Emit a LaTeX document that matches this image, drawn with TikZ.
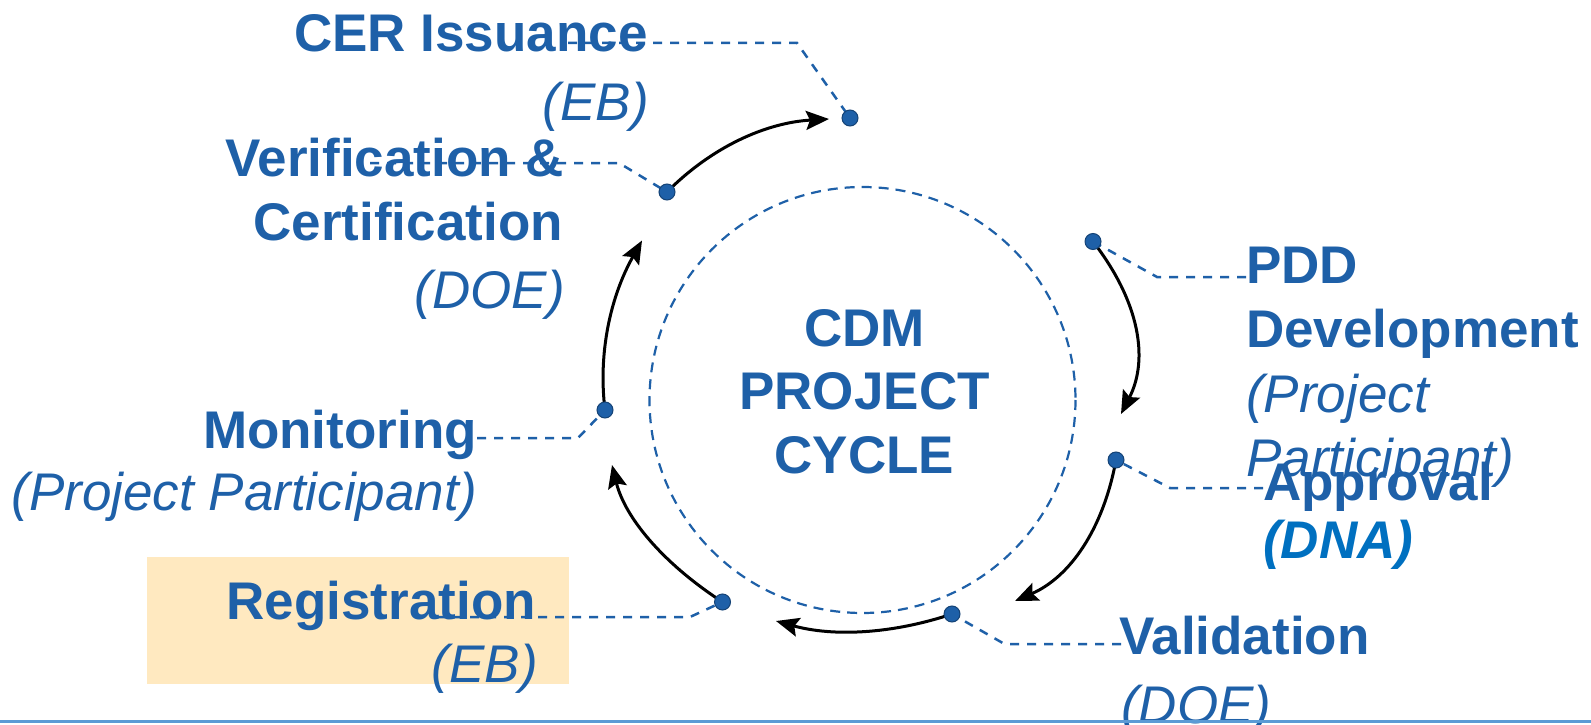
\documentclass[tikz,border=0pt]{standalone}
\usepackage{fontspec}
\setmainfont{Liberation Sans}
\usetikzlibrary{arrows.meta}
\definecolor{tblue}{RGB}{30,96,168}
\definecolor{dnablue}{RGB}{0,112,192}
\definecolor{boxfill}{RGB}{255,233,192}
\definecolor{rulec}{RGB}{91,155,213}
\begin{document}
\begin{tikzpicture}[x=1pt,y=-1pt,
  lbl/.style={inner sep=0pt, text=tblue, font=\fontsize{53}{64}\selectfont\bfseries},
  sub/.style={inner sep=0pt, text=tblue, font=\fontsize{53}{64}\selectfont\itshape},
  dot/.style={circle, fill=tblue, draw=tblue!70!black, line width=1pt, inner sep=0pt, minimum size=16pt},
  lead/.style={draw=tblue, line width=2.5pt, dash pattern=on 9pt off 8pt},
  arr/.style={draw=black, line width=3pt, -{Stealth[length=23pt,width=19pt,inset=4pt]}},
]
\useasboundingbox (0,0) rectangle (1591,725);

% highlight box
\fill[boxfill] (147,557) rectangle (569,684);

% labels
\node[lbl, anchor=base west] (cer) at (294,52) {CER Issuance};
\node[sub, anchor=base east] (cereb) at (649,121) {(EB)};
\node[lbl, anchor=base west] (ver1) at (225,176) {Verification \&};
\node[lbl, anchor=base east] (ver2) at (563,240) {Certification};
\node[sub, anchor=base east] (verdoe) at (565,308) {(DOE)};
\node[lbl, anchor=base east] (mon) at (477,448) {Monitoring};
\node[sub, anchor=base east] (monpp) at (477,510) {(Project Participant)};
\node[lbl, anchor=base east] (reg) at (536,619) {Registration};
\node[sub, anchor=base east] (regeb) at (538,682) {(EB)};
\node[lbl, anchor=base west] (pdd1) at (1246,283) {PDD};
\node[lbl, anchor=base west] (pdd2) at (1246,347) {Development};
\node[sub, anchor=base west] (pdd3) at (1246,412) {(Project};
\node[sub, anchor=base west] (pdd4) at (1246,476) {Participant)};
\node[lbl, anchor=base west] (app) at (1263,500) {Approval};
\node[inner sep=0pt, text=dnablue, font=\fontsize{53}{64}\selectfont\bfseries\itshape, anchor=base west] (dna) at (1263,558) {(DNA)};
\node[lbl, anchor=base west] (val) at (1119,654) {Validation};
\node[sub, anchor=base west] (valdoe) at (1121,723) {(DOE)};

% centre
\draw[tblue, line width=2.2pt, dash pattern=on 10pt off 7pt] (862.5,400) circle (213);
\node[lbl] (c1) at (864.5,328) {CDM};
\node[lbl] (c2) at (864.5,391) {PROJECT};
\node[lbl] (c3) at (864.5,455) {CYCLE};

% dots
\coordinate (dcer) at (850,118);
\coordinate (dver) at (667,192);
\coordinate (dpdd) at (1093,241.5);
\coordinate (dapp) at (1116,460);
\coordinate (dval) at (952,614);
\coordinate (dreg) at (722.5,602);
\coordinate (dmon) at (605,410);

% leaders
\coordinate (lcer) at (568,43);
\coordinate (lver) at (370,163);
\coordinate (lmon) at (477,438);
\coordinate (lreg) at (436,617);
\coordinate (lval) at (1121,644);
\coordinate (lapp) at (1263,488);
\coordinate (lpdd) at (1246,277);
\draw[lead] (lcer) -- (797,43) -- (dcer);
\draw[lead] (lver) -- (619,163) -- (dver);
\draw[lead] (lmon) -- (578,438) -- (dmon);
\draw[lead] (lreg) -- (690,617) -- (dreg);
\draw[lead] (lval) -- (1004.5,644) -- (dval);
\draw[lead] (lapp) -- (1170,488) -- (dapp);
\draw[lead] (lpdd) -- (1157,277) -- (dpdd);

% arrows
\coordinate (t1) at (1121,414);
\coordinate (t2) at (1015,601);
\coordinate (t3) at (776,621);
\coordinate (t4) at (612,465);
\coordinate (t5) at (642,240.5);
\coordinate (t6) at (829,119);
\draw[arr] (dpdd) .. controls (1139.7,301.8) and (1149,359.3) .. (t1);
\draw[arr] (dapp) .. controls (1103,530.3) and (1069.3,577.3) .. (t2);
\draw[arr] (dval) .. controls (891.3,634.3) and (832.7,636.7) .. (t3);
\draw[arr] (dreg) .. controls (661.5,562.3) and (624.7,516.7) .. (t4);
\draw[arr] (dmon) .. controls (598,353.3) and (610.3,296.8) .. (t5);
\draw[arr] (dver) .. controls (711.7,147) and (765.7,122.7) .. (t6);

\foreach \d in {dcer,dver,dpdd,dapp,dval,dreg,dmon}
  \node[dot] (n\d) at (\d) {};

% bottom rule
\draw[rulec, line width=3pt] (0,721) -- (1591,721);
\end{tikzpicture}
\end{document}
